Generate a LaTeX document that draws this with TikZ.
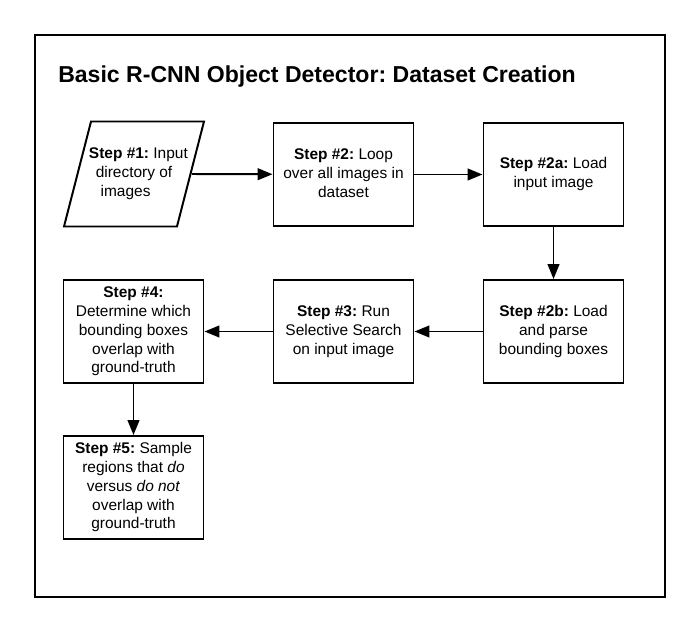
\documentclass[tikz,border=0pt]{standalone}
\usepackage{fontspec}
\setmainfont{Liberation Sans}
\frenchspacing
\usepackage{tikz}
\usetikzlibrary{calc}
\usetikzlibrary{arrows.meta}

\begin{document}
\begin{tikzpicture}[
  >={Triangle[length=3.7mm,width=2.9mm]},
  stepbox/.style={draw,rectangle,line width=1.4pt,minimum width=3.5cm,minimum height=2.575cm,inner sep=0pt,
    font=\fontsize{11}{13.4}\selectfont},
  inputbox/.style={stepbox,draw=none,minimum width=3.45cm}
]
\useasboundingbox (0,0) rectangle (17.5,15.75);

% Frame and title
\draw[line width=1.4pt] (0.875,0.825) rectangle (16.625,14.875);
\node[anchor=base west,inner sep=0pt,font=\fontsize{16.4}{19}\selectfont\bfseries] (title) at (1.45,13.675)
  {Basic R-CNN Object Detector: Dataset Creation};

% Input box (parallelogram, text follows the slant)
\node[inputbox] (step1) at (3.35,11.4) {
\begin{tabular}{c}
\makebox[0pt]{\hspace{0.22cm}\textbf{Step \#1:} Input} \\
\makebox[0pt]{directory of} \\
\makebox[0pt]{\hspace{-0.42cm}images}
\end{tabular}
};
\draw[line width=1.4pt] ($(step1.north west)+(0.675,0)$) -- (step1.north east)
  -- ($(step1.south east)-(0.675,0)$) -- (step1.south west) -- cycle;
\coordinate (step1out) at ($(step1.east)-(0.3,0)$);

% Top row
\node[stepbox] (step2) at (8.5875,11.3875) {
\begin{tabular}{c}
\textbf{Step \#2:} Loop \\
over all images in \\
dataset
\end{tabular}
};

\node[stepbox] (step2a) at (13.8375,11.3875) {
\begin{tabular}{c}
\textbf{Step \#2a:} Load \\
input image
\end{tabular}
};

% Middle row
\node[stepbox] (step2b) at (13.8375,7.4625) {
\begin{tabular}{c}
\textbf{Step \#2b:} Load \\
and parse \\
bounding boxes
\end{tabular}
};

\node[stepbox] (step3) at (8.5875,7.4625) {
\begin{tabular}{c}
\textbf{Step \#3:} Run \\
Selective Search \\
on input image
\end{tabular}
};

\node[stepbox] (step4) at (3.3375,7.4625) {
\begin{tabular}{c}
\textbf{Step \#4:} \\
Determine which \\
bounding boxes \\
overlap with \\
ground-truth
\end{tabular}
};

% Output box
\node[stepbox] (step5) at (3.3375,3.5625) {
\begin{tabular}{c}
\textbf{Step \#5:} Sample \\
regions that \textit{do} \\
versus \textit{do not} \\
overlap with \\
ground-truth
\end{tabular}
};

% Arrows
\draw[->,line width=1.4pt] (step1out) -- (step2);
\draw[->,line width=1.4pt] (step2) -- (step2a);
\draw[->,line width=1.4pt] (step2a) -- (step2b);
\draw[->,line width=1.4pt] (step2b) -- (step3);
\draw[->,line width=1.4pt] (step3) -- (step4);
\draw[->,line width=1.4pt] (step4) -- (step5);
\end{tikzpicture}
\end{document}
